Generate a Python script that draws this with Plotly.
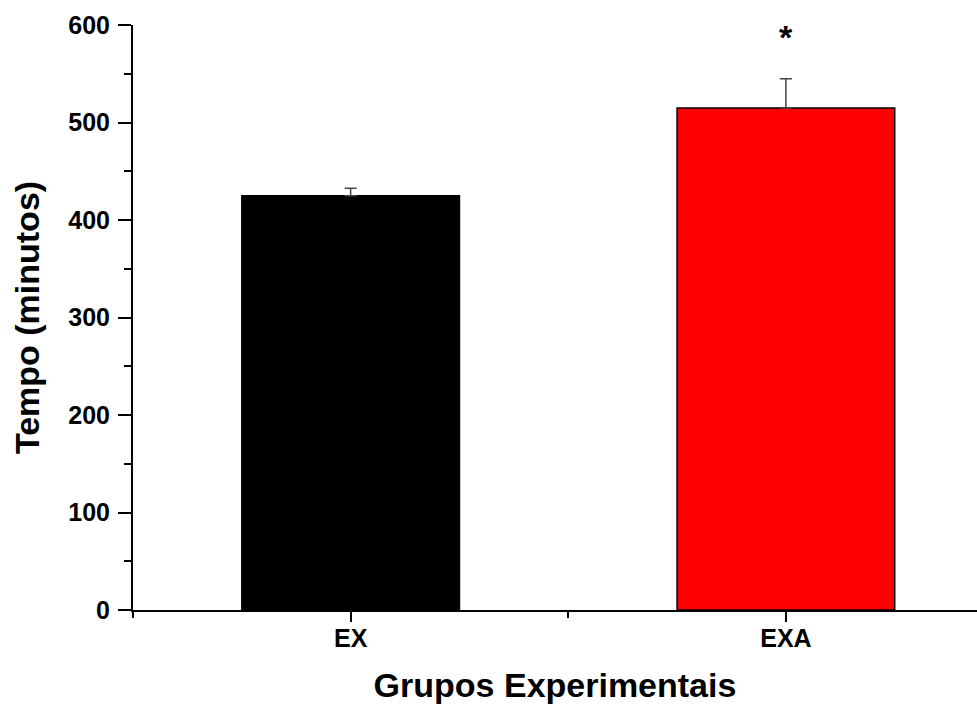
import plotly.graph_objects as go

categories = ["EX", "EXA"]
means = [425, 515]
errors = [7.5, 30]
bar_colors = ["#000000", "#ff0000"]
sig_marks = ["", "*"]
sig_y = [None, 588]
y_ticks = [0, 100, 200, 300, 400, 500, 600]

x_pos = list(range(len(categories)))
FONT = "Liberation Sans, Arial, sans-serif"

fig = go.Figure()
fig.add_trace(go.Bar(
    x=x_pos, y=means, width=0.5,
    marker=dict(color=bar_colors, line=dict(color="#000000", width=1.5)),
    error_y=dict(type="data", array=errors, arrayminus=[0] * len(errors),
                 symmetric=False, color="#444444", thickness=1.5, width=6),
    showlegend=False,
))

for xi, s, yv in zip(x_pos, sig_marks, sig_y):
    if s:
        fig.add_annotation(x=xi, y=yv, text=f"<b>{s}</b>", showarrow=False,
                           font=dict(family=FONT, size=34, color="black"),
                           xanchor="center", yanchor="middle")

fig.update_layout(
    width=977, height=704,
    margin=dict(l=133, r=0, t=25, b=94),
    plot_bgcolor="white", paper_bgcolor="white",
    font=dict(family=FONT, color="black"),
)
fig.update_xaxes(
    range=[-0.5, 1.439], tickvals=x_pos,
    ticktext=[f"<b>{c}</b>" for c in categories],
    tickfont=dict(family=FONT, size=25, color="black"),
    showline=True, linecolor="black", linewidth=2,
    ticks="outside", ticklen=10, tickwidth=2, tickcolor="black",
    minor=dict(dtick=0.5, tick0=-0.5, ticks="outside", ticklen=6, tickwidth=2, tickcolor="black"),
    showgrid=False, zeroline=False,
    title=dict(text="<b>Grupos Experimentais</b>",
               font=dict(family=FONT, size=34, color="black"), standoff=26),
    ticklabelstandoff=-5,
)
fig.update_yaxes(
    range=[0, 600], tickvals=y_ticks,
    ticktext=[f"<b>{v}</b>" for v in y_ticks],
    tickfont=dict(family=FONT, size=25, color="black"),
    showline=True, linecolor="black", linewidth=2,
    ticks="outside", ticklen=13, tickwidth=2, tickcolor="black",
    minor=dict(dtick=50, tick0=0, ticks="outside", ticklen=7, tickwidth=2, tickcolor="black"),
    showgrid=False, zeroline=False,
    title=dict(text="<b>Tempo (minutos)</b>",
               font=dict(family=FONT, size=34, color="black"), standoff=18),
    ticklabelstandoff=3,
)

fig.write_html("out.html")
